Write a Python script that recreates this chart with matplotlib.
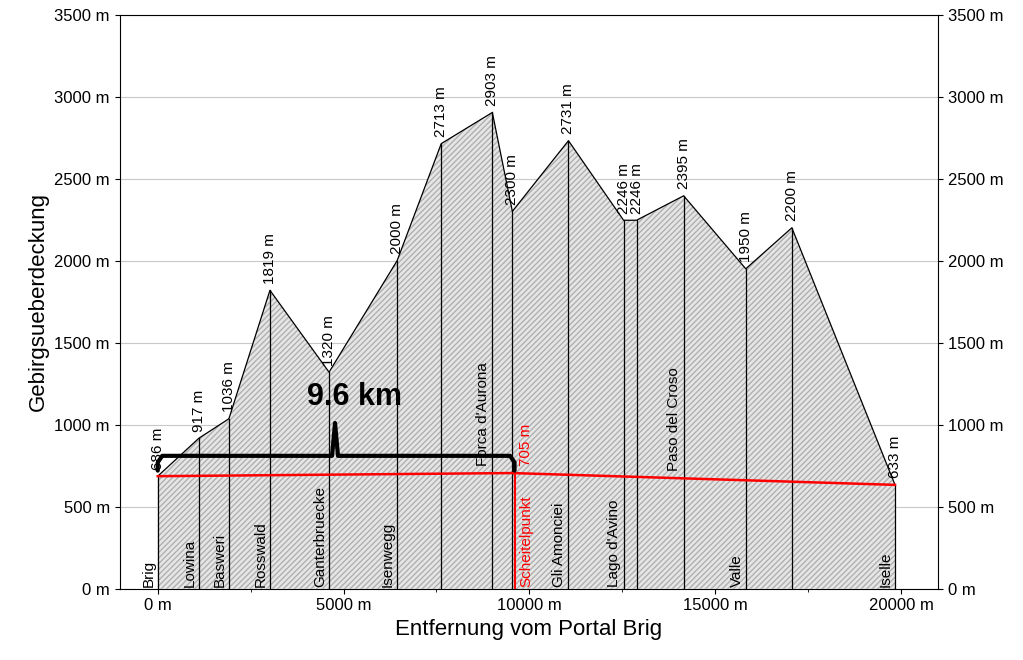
import matplotlib
matplotlib.use("Agg")
import matplotlib.pyplot as plt

plt.rcParams['font.family'] = ['Liberation Sans', 'DejaVu Sans']

# profile points: distance from portal Brig (m), overburden (m)
dist = [0, 1105, 1914, 3019, 4609, 6442, 7628, 9003, 9542, 11051, 12534, 12884, 14151, 15822, 17062, 19838]
height = [686, 917, 1036, 1819, 1320, 2000, 2713, 2903, 2300, 2731, 2246, 2246, 2395, 1950, 2200, 633]
names = {0: "Brig", 1105: "Lowina", 1914: "Basweri", 3019: "Rosswald", 4609: "Ganterbruecke",
         6442: "Isenwegg", 15822: "Valle", 19838: "Iselle", 11051: "Gli Amonciei", 12534: "Lago d'Avino"}
high_names = {9003: "Forca d'Aurona", 14151: "Paso del Croso"}

# tunnel axis (red)
tunnel_x = [0, 9542, 19838]
tunnel_y = [686, 705, 633]
apex_x, apex_y = 9600, 705
brace_label = "9.6 km"

fig = plt.figure(figsize=(10.23, 6.6), dpi=100)
ax = fig.add_axes([0.117, 0.108, 0.800, 0.870])
ax.set_xlim(-1024, 20997)
ax.set_ylim(0, 3500)

ax.fill_between(dist, 0, height, facecolor="#e6e6e6", edgecolor="#b0b0b0", hatch="//////", linewidth=0)
ax.plot(dist, height, color="black", lw=0.9)
for x, h in zip(dist, height):
    ax.plot([x, x], [0, h], color="black", lw=0.9)
    ax.text(x, h + 40, f"{h} m", rotation=90, ha="center", va="bottom", fontsize=11)
for x, n in names.items():
    ax.text(x - 60, 10, n, rotation=90, ha="right", va="bottom", fontsize=11)
for x, n in high_names.items():
    ax.text(x - 60, 750 if x < 10000 else 720, n, rotation=90, ha="right", va="bottom", fontsize=11)

ax.plot(tunnel_x, tunnel_y, color="red", lw=1.8)
ax.plot([apex_x, apex_x], [0, apex_y], color="red", lw=1.5)
ax.text(apex_x + 120, 10, "Scheitelpunkt", rotation=90, ha="left", va="bottom", color="red", fontsize=11)
ax.text(apex_x + 120, apex_y + 40, f"{apex_y} m", rotation=90, ha="left", va="bottom", color="red", fontsize=11)

# 9.6 km brace
by = 810
mid = 4770
ax.plot([0, 0, 120, mid - 80, mid, mid + 80, apex_x - 120, apex_x, apex_x],
        [720, by - 40, by, by, 1010, by, by, by - 40, 720], color="black", lw=3,
        solid_joinstyle="round", solid_capstyle="round")
ax.text(5300, 1080, brace_label, fontsize=22, fontweight="bold", ha="center", va="bottom")

ticks = [0, 500, 1000, 1500, 2000, 2500, 3000, 3500]
ax.set_yticks(ticks)
ax.set_yticklabels([f"{t} m" for t in ticks])
ax.yaxis.grid(True, color="#c8c8c8", lw=0.8)
ax.set_axisbelow(True)
ax.tick_params(axis="y", right=True, labelright=True, labelsize=12)
ax.set_xticks([0, 5000, 10000, 15000, 20000])
ax.set_xticklabels([f"{t} m" for t in [0, 5000, 10000, 15000, 20000]])
ax.set_xticks([2500, 7500, 12500, 17500], minor=True)
ax.tick_params(axis="x", labelsize=12)
ax.set_xlabel("Entfernung vom Portal Brig", fontsize=16)
ax.set_ylabel("Gebirgsueberdeckung", fontsize=16)

fig.savefig("out.png")
